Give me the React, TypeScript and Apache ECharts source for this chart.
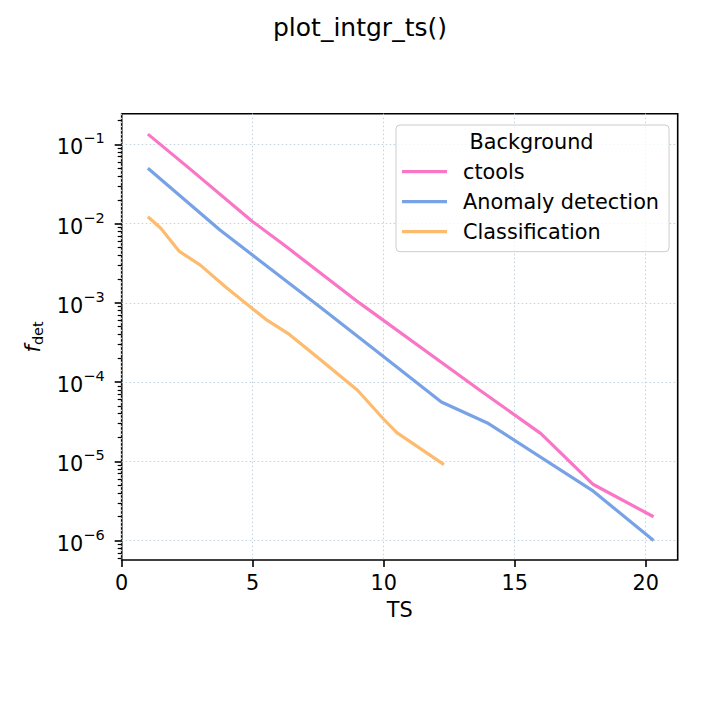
import React, { useEffect, useRef } from "react";
import * as echarts from "echarts";

const TITLE = "plot_intgr_ts()";
const LEGEND_TITLE = "Background";
const X_NAME = "TS";
const SERIES_NAMES = ["ctools", "Anomaly detection", "Classification"];
const COLORS = ["#f976c7", "#77a3e6", "#fdbb6e"];

const ctoolsTS = [1.0, 2.5, 5.0, 6.2, 9.07, 13.67, 16.0, 18.0, 20.3];
const ctoolsF = [0.135, 0.0525, 0.0106, 0.00537, 0.001, 7.9e-5, 2.24e-5, 5.1e-6, 2.0e-6];
const anomalyTS = [1.0, 3.75, 7.57, 10.0, 12.2, 14.0, 18.0, 20.3];
const anomalyF = [0.0501, 0.0083, 8.9e-4, 2.09e-4, 5.6e-5, 3.0e-5, 4.2e-6, 1.0e-6];
const classTS = [1.0, 1.5, 2.2, 3.0, 4.0, 5.5, 6.4, 7.6, 9.0, 10.0, 10.5, 12.3];
const classF = [0.01225, 8.7e-3, 4.47e-3, 3.0e-3, 1.55e-3, 6.2e-4, 4.0e-4, 1.9e-4, 7.9e-5, 3.4e-5, 2.3e-5, 9.1e-6];

const X_TICKS = [0, 5, 10, 15, 20];
const Y_DECADES = [-6, -5, -4, -3, -2, -1];
const MINOR_MULTIPLES = [2, 3, 4, 5, 6, 7, 8, 9];
const X_MIN = 0;
const X_MAX = 21.22;
const Y_MIN = -6.245;
const Y_MAX = -0.612;

const FONT = "DejaVu Sans";
const FS = 20.8;

function minorTicks(): number[] {
  const out: number[] = [];
  for (let n = -7; n <= 0; n++) {
    for (const k of MINOR_MULTIPLES) {
      const v = Math.log10(k) + n;
      if (v >= Y_MIN && v <= Y_MAX) out.push(v);
    }
  }
  return out;
}

function toData(xs: number[], ys: number[]) {
  return xs.map((x, i) => [x, Math.log10(ys[i])]);
}

const GRID_BOX = { left: 121.7, top: 113.7, right: 42.3, bottom: 160 };
const STEP = 0.001;

export default function App() {
  const ref = useRef<HTMLDivElement>(null);
  useEffect(() => {
    if (!ref.current) return;
    const chart = echarts.init(ref.current, null, { renderer: "svg" });
    const seriesData = [
      toData(ctoolsTS, ctoolsF),
      toData(anomalyTS, anomalyF),
      toData(classTS, classF),
    ];
    const minor = minorTicks();
    // fine log-space positions for a category axis that only carries the minor ticks
    const count = Math.round((Y_MAX - Y_MIN) / STEP) + 1;
    const fine: string[] = [];
    for (let i = 0; i < count; i++) fine.push((Y_MIN + i * STEP).toFixed(3));
    const isMinor = (v: number) => minor.some((m) => Math.abs(m - v) < STEP / 2 + 1e-9);

    chart.setOption({
      animation: false,
      backgroundColor: "#ffffff",
      textStyle: { fontFamily: FONT },
      title: {
        text: TITLE,
        left: "center",
        top: 10,
        textStyle: { fontFamily: FONT, fontSize: 25, fontWeight: "normal", color: "#000" },
      },
      grid: [
        {
          ...GRID_BOX,
          show: true,
          borderColor: "#000",
          borderWidth: 1.6,
          backgroundColor: "transparent",
        },
        {
          ...GRID_BOX,
          show: false,
        },
      ],
      legend: {
        orient: "vertical",
        left: 396,
        top: 125,
        data: SERIES_NAMES,
        icon: "rect",
        itemWidth: 45,
        itemHeight: 3.2,
        itemGap: 9,
        padding: [36.2, 10, 9.5, 6],
        backgroundColor: "rgba(255,255,255,0.8)",
        borderColor: "#cccccc",
        borderWidth: 1,
        borderRadius: 4,
        textStyle: { fontFamily: FONT, fontSize: FS, color: "#000", padding: [0, 0, 0, 11] },
        z: 10,
      },
      graphic: [
        {
          type: "text",
          x: 531.5,
          y: 141.7,
          z: 100,
          style: {
            text: LEGEND_TITLE,
            fontFamily: FONT,
            fontSize: FS,
            fill: "#000",
            textAlign: "center",
            textVerticalAlign: "middle",
          },
        },
      ],
      xAxis: [
        {
          type: "value",
          gridIndex: 0,
          min: X_MIN,
          max: X_MAX,
          interval: 5,
          name: X_NAME,
          nameLocation: "middle",
          nameGap: 39,
          nameTextStyle: { fontFamily: FONT, fontSize: FS, color: "#000" },
          axisLine: { show: false },
          axisTick: {
            show: true,
            customValues: X_TICKS,
            length: 7,
            lineStyle: { color: "#000", width: 1.6 },
          },
          axisLabel: {
            customValues: X_TICKS,
            margin: 12,
            fontFamily: FONT,
            fontSize: FS,
            color: "#000",
            formatter: (v: number) => (X_TICKS.includes(v) ? String(v) : ""),
          },
          splitLine: {
            show: true,
            lineStyle: { color: "#c3d3de", width: 1, type: [1.5, 2.5] },
          },
        },
        {
          type: "value",
          gridIndex: 1,
          min: X_MIN,
          max: X_MAX,
          show: false,
        },
      ],
      yAxis: [
        {
          type: "value",
          gridIndex: 0,
          min: Y_MIN,
          max: Y_MAX,
          name: "{i|f}{s|det}",
          nameLocation: "middle",
          nameRotate: 90,
          nameGap: 74,
          nameTextStyle: {
            fontFamily: FONT,
            color: "#000",
            rich: {
              i: { fontFamily: FONT, fontSize: FS, fontStyle: "italic", color: "#000", verticalAlign: "top" },
              s: { fontFamily: FONT, fontSize: 14.5, color: "#000", verticalAlign: "bottom", padding: [8, 0, 0, 0] },
            },
          },
          axisLine: { show: false },
          axisTick: {
            show: true,
            customValues: Y_DECADES,
            length: 7,
            lineStyle: { color: "#000", width: 1.6 },
          },
          axisLabel: {
            customValues: Y_DECADES,
            margin: 17,
            formatter: (v: number) =>
              Math.abs(v - Math.round(v)) < 1e-6 && Y_DECADES.includes(Math.round(v))
                ? "{b|10}{s|\u2212" + Math.round(-v) + "}"
                : "",
            rich: {
              b: { fontFamily: FONT, fontSize: FS, color: "#000", verticalAlign: "bottom", padding: [6, 0, 0, 0] },
              s: { fontFamily: FONT, fontSize: 14.5, color: "#000", verticalAlign: "top" },
            },
          },
          splitLine: {
            show: true,
            lineStyle: { color: "#c3d3de", width: 1, type: [1.5, 2.5] },
          },
        },
        {
          type: "category",
          gridIndex: 1,
          data: fine,
          boundaryGap: false,
          position: "left",
          axisLine: { show: false, onZero: false },
          axisLabel: { show: false },
          splitLine: { show: false },
          axisTick: {
            show: true,
            interval: (_idx: number, val: string) => isMinor(parseFloat(val)),
            length: 4,
            lineStyle: { color: "#000", width: 1.2 },
          },
        },
      ],
      series: SERIES_NAMES.map((name, i) => ({
        name,
        type: "line",
        data: seriesData[i],
        xAxisIndex: 0,
        yAxisIndex: 0,
        showSymbol: false,
        symbol: "none",
        lineStyle: { color: COLORS[i], width: 3.2 },
        itemStyle: { color: COLORS[i] },
        z: 3,
      })),
    });
    return () => chart.dispose();
  }, []);
  return (
    <div
      ref={ref}
      style={{ position: "fixed", left: 0, top: 0, width: 720, height: 720 }}
    />
  );
}
